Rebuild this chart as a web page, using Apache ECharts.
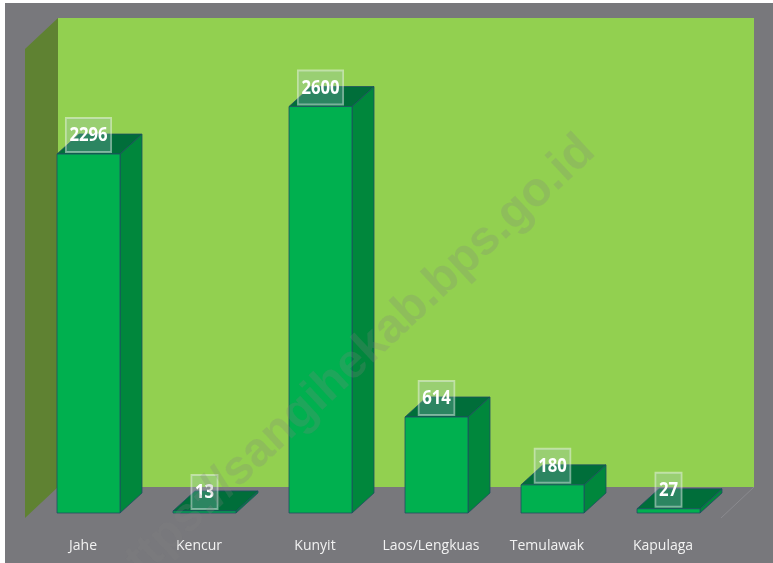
<!DOCTYPE html>
<html>
<head>
<meta charset="utf-8">
<script src="https://cdn.jsdelivr.net/npm/echarts@6/dist/echarts.min.js"></script>
<style>
html,body{margin:0;padding:0;background:#ffffff;}
#c{width:773px;height:563px;}
</style>
</head>
<body>
<div id="c"></div>
<script>
var categories = ['Jahe', 'Kencur', 'Kunyit', 'Laos/Lengkuas', 'Temulawak', 'Kapulaga'];
var values = [2296, 13, 2600, 614, 180, 27];
var watermark = 'https://sangihekab.bps.go.id';

var chart = echarts.init(document.getElementById('c'), null, {renderer: 'canvas'});

var DX = 22, DY = -20;      // bar depth
var FRONT_SHIFT = 5.5;      // bar front face offset from category center
var BAR_W = 63;

function renderBar(params, api) {
  var i = api.value(0), v = api.value(1);
  var top = api.coord([i, v]);
  var base = api.coord([i, 0]);
  var cx = top[0] + FRONT_SHIFT;
  var x0 = cx - BAR_W / 2, x1 = cx + BAR_W / 2;
  var yT = top[1], yB = base[1];
  var edge = '#1f4f62';
  return {
    type: 'group',
    children: [
      {type: 'polygon', shape: {points: [[x1, yB], [x1 + DX, yB + DY], [x1 + DX, yT + DY], [x1, yT]]},
        style: {fill: '#00873c', stroke: edge, lineWidth: 0.8}},
      {type: 'polygon', shape: {points: [[x0, yT], [x1, yT], [x1 + DX, yT + DY], [x0 + DX, yT + DY]]},
        style: {fill: '#006e3a', stroke: edge, lineWidth: 0.8}},
      {type: 'rect', shape: {x: x0, y: yT, width: BAR_W, height: Math.max(yB - yT, 1.5)},
        style: {fill: '#00b04f', stroke: edge, lineWidth: 0.8}},
      {type: 'text', z2: 10, x: cx, y: yT - 2, scaleX: 0.88,
        style: {
        text: String(v), x: 0, y: 0, align: 'center', verticalAlign: 'bottom',
        fill: '#ffffff', fontFamily: 'Open Sans, sans-serif', fontWeight: 'bold', fontSize: 19, lineHeight: 20,
        backgroundColor: 'rgba(175,205,215,0.25)', borderColor: 'rgba(255,255,255,0.45)', borderWidth: 1,
        padding: [8, 4, 6, 4]
      }}
    ]
  };
}

chart.setOption({
  animation: false,
  backgroundColor: 'transparent',
  grid: {left: 25, right: 52, top: 44, bottom: 50},
  xAxis: {
    type: 'category', data: categories,
    axisLine: {show: false}, axisTick: {show: false}, splitLine: {show: false},
    axisLabel: {interval: 0, color: '#f2f2f2', fontSize: 14, fontFamily: 'Open Sans', margin: 26}
  },
  yAxis: {type: 'value', min: 0, max: 3000, show: false},
  graphic: [
    {type: 'rect', z: -10, shape: {x: 5, y: 3, width: 768, height: 560}, style: {fill: '#78787c'}},
    {type: 'rect', z: -9, shape: {x: 58, y: 18, width: 696, height: 469}, style: {fill: '#92d050'}},
    {type: 'polygon', z: -9, shape: {points: [[25, 49], [58, 18], [58, 487], [25, 518]]}, style: {fill: '#5f8232'}},
    {type: 'line', z: -9, shape: {x1: 754, y1: 487, x2: 721, y2: 518}, style: {stroke: 'rgba(150,150,155,0.6)', lineWidth: 1}},
    {type: 'text', z: 100, x: 350, y: 366, rotation: 43 * Math.PI / 180,
      style: {text: watermark, align: 'center', verticalAlign: 'middle', fontFamily: 'Liberation Sans, Arial, sans-serif',
        fontWeight: 'bold', fontSize: 48, fill: 'rgba(128,128,128,0.24)'}}
  ],
  series: [{
    type: 'custom',
    renderItem: renderBar,
    data: values.map(function (v, i) { return [i, v]; }),
    encode: {x: 0, y: 1}
  }]
});
</script>
</body>
</html>
